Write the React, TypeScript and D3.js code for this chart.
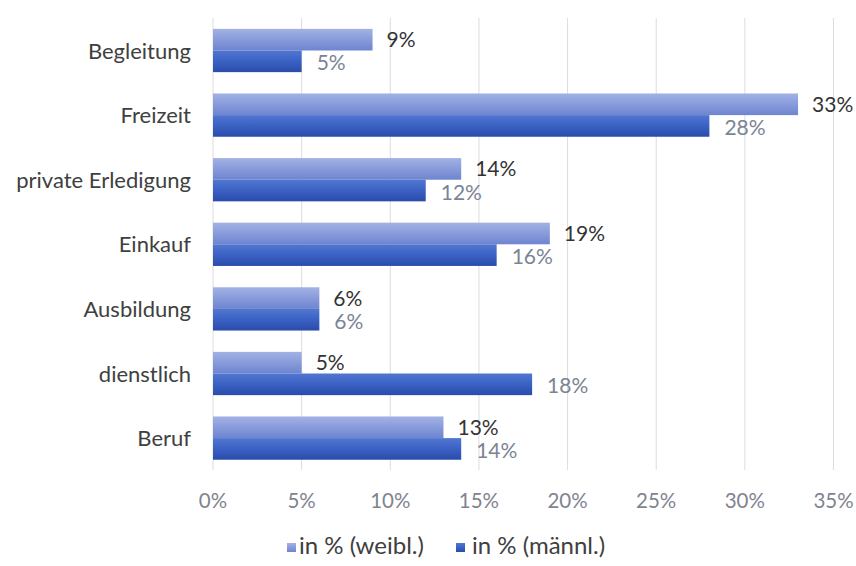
import React from "react";
import * as d3 from "d3";

const categories = ["Begleitung", "Freizeit", "private Erledigung", "Einkauf", "Ausbildung", "dienstlich", "Beruf"];
const weibl = [9, 33, 14, 19, 6, 5, 13];
const maennl = [5, 28, 12, 16, 6, 18, 14];
const ticks = [0, 5, 10, 15, 20, 25, 30, 35];
const seriesNames = ["in % (weibl.)", "in % (männl.)"];

const W = 856;
const H = 566;
const FONT = "Lato, 'Open Sans', sans-serif";

export default function App() {
  const x = d3.scaleLinear().domain([0, 35]).range([213, 833.5]);
  const y = d3
    .scaleBand<string>()
    .domain(categories)
    .range([18.2, 470.4])
    .paddingInner(0.33)
    .paddingOuter(0.165);
  const bh = y.bandwidth() / 2;

  return (
    <div style={{ position: "fixed", left: 0, top: 0 }}>
      <svg width={W} height={H} style={{ display: "block", background: "#fff" }} fontFamily={FONT}>
        <defs>
          <linearGradient id="gw" x1="0" y1="0" x2="0" y2="1">
            <stop offset="0" stopColor="#a3b2e5" />
            <stop offset="0.5" stopColor="#889bda" />
            <stop offset="1" stopColor="#6d84d0" />
          </linearGradient>
          <linearGradient id="gm" x1="0" y1="0" x2="0" y2="1">
            <stop offset="0" stopColor="#5277d1" />
            <stop offset="0.5" stopColor="#3a61c3" />
            <stop offset="1" stopColor="#2a4cab" />
          </linearGradient>
        </defs>
        {ticks.map((t) => (
          <line key={t} x1={x(t)} x2={x(t)} y1={18} y2={470} stroke="#dcdcdc" strokeWidth={1} />
        ))}
        {ticks.map((t) => (
          <text key={"t" + t} x={x(t)} y={508} textAnchor="middle" fontSize={20.5} fill="#7f8490">
            {t + "%"}
          </text>
        ))}
        {categories.map((c, i) => {
          const y0 = y(c)!;
          return (
            <g key={c}>
              <text x={191} y={y0 + bh + 8} textAnchor="end" fontSize={22} fill="#404040">
                {c}
              </text>
              <rect x={x(0)} y={y0} width={x(weibl[i]) - x(0)} height={bh} fill="url(#gw)" />
              <rect x={x(0)} y={y0 + bh} width={x(maennl[i]) - x(0)} height={bh} fill="url(#gm)" />
              <text x={x(weibl[i]) + 14} y={y0 + bh / 2 + 7.5} fontSize={21} fill="#333">
                {weibl[i] + "%"}
              </text>
              <text x={x(maennl[i]) + 15} y={y0 + bh + bh / 2 + 9} fontSize={21} fill="#7a8494">
                {maennl[i] + "%"}
              </text>
            </g>
          );
        })}
        <g>
          <rect x={287} y={543} width={9} height={9} fill="url(#gw)" />
          <text x={299} y={554} fontSize={24} fill="#404040">{seriesNames[0]}</text>
          <rect x={456} y={543} width={9} height={9} fill="url(#gm)" />
          <text x={472} y={554} fontSize={24} fill="#404040">{seriesNames[1]}</text>
        </g>
      </svg>
    </div>
  );
}
